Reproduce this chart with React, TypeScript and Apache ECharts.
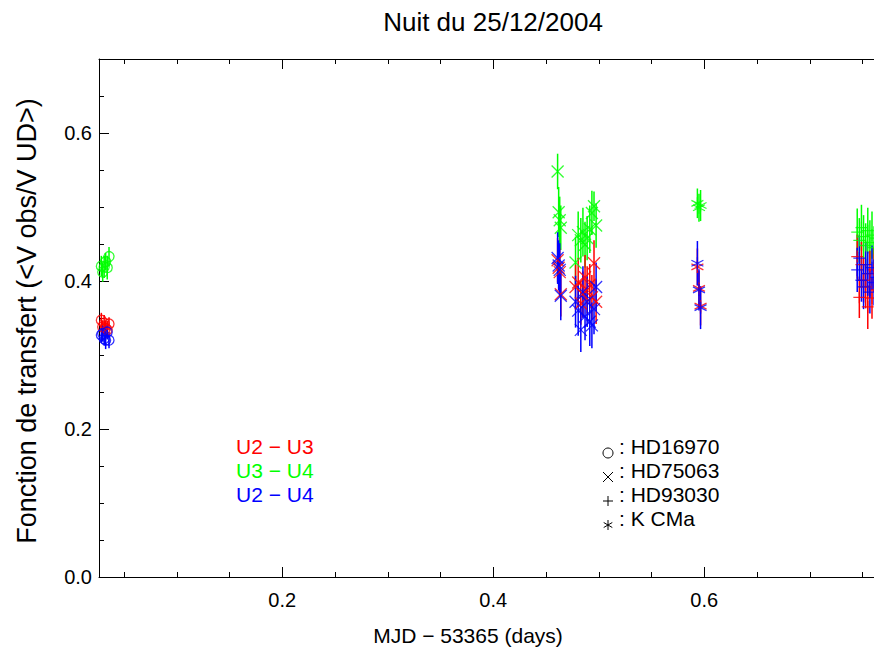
import React, { useEffect, useRef } from "react";
import * as echarts from "echarts";

// Baselines (colour) and stars (symbol)
const baselineNames = ["U2 − U3", "U3 − U4", "U2 − U4"];
const baselineColors = ["#ff0000", "#00ff00", "#0000ff"];
const starNames = ["HD16970", "HD75063", "HD93030", "K CMa"];

// Axis ticks
const xMinorTicks = [0.05, 0.1, 0.15, 0.2, 0.25, 0.3, 0.35, 0.4, 0.45, 0.5, 0.55, 0.6, 0.65, 0.7, 0.75];
const xMajorTicks = [0.2, 0.4, 0.6];
const yMinorTicks = [0, 0.05, 0.1, 0.15, 0.2, 0.25, 0.3, 0.35, 0.4, 0.45, 0.5, 0.55, 0.6, 0.65];
const yMajorTicks = [0.0, 0.2, 0.4, 0.6];

// HD16970 (circles)
const hd16970X = [0.0285, 0.0298, 0.0312, 0.0326, 0.0341, 0.0358];
const hd16970U23 = [0.347, 0.338, 0.343, 0.336, 0.334, 0.342];
const hd16970U34 = [0.420, 0.412, 0.419, 0.426, 0.418, 0.433];
const hd16970U24 = [0.327, 0.329, 0.322, 0.320, 0.331, 0.320];
const hd16970ErrU23 = [0.010, 0.009, 0.011, 0.010, 0.012, 0.009];
const hd16970ErrU34 = [0.014, 0.013, 0.015, 0.012, 0.016, 0.013];
const hd16970ErrU24 = [0.010, 0.011, 0.009, 0.012, 0.010, 0.011];

// HD75063 (crosses)
const hd75063X = [0.4610, 0.4620, 0.4630, 0.4640, 0.4780, 0.4805, 0.4830, 0.4850, 0.4870, 0.4890, 0.4915, 0.4935, 0.4955, 0.4975];
const hd75063U23 = [0.428, 0.418, 0.412, 0.382, 0.392, 0.398, 0.370, 0.382, 0.405, 0.388, 0.395, 0.378, 0.424, 0.372];
const hd75063U34 = [0.548, 0.493, 0.482, 0.472, 0.425, 0.462, 0.455, 0.466, 0.449, 0.458, 0.470, 0.492, 0.501, 0.475];
const hd75063U24 = [0.431, 0.421, 0.415, 0.380, 0.372, 0.360, 0.334, 0.385, 0.352, 0.372, 0.345, 0.340, 0.362, 0.392];
const hd75063ErrU23 = [0.030, 0.028, 0.032, 0.030, 0.030, 0.033, 0.029, 0.031, 0.030, 0.032, 0.028, 0.030, 0.031, 0.030];
const hd75063ErrU34 = [0.024, 0.034, 0.032, 0.030, 0.035, 0.032, 0.030, 0.033, 0.031, 0.030, 0.032, 0.030, 0.020, 0.030];
const hd75063ErrU24 = [0.035, 0.034, 0.036, 0.033, 0.035, 0.034, 0.030, 0.035, 0.032, 0.034, 0.033, 0.031, 0.034, 0.033];

// HD93030 (plus)
const hd93030X = [0.7450, 0.7470, 0.7490, 0.7510, 0.7530, 0.7550, 0.7570, 0.7590, 0.7610, 0.7630];
const hd93030U23 = [0.433, 0.378, 0.422, 0.401, 0.392, 0.365, 0.410, 0.377, 0.415, 0.388];
const hd93030U34 = [0.466, 0.455, 0.472, 0.460, 0.448, 0.468, 0.452, 0.462, 0.445, 0.458];
const hd93030U24 = [0.415, 0.431, 0.401, 0.392, 0.422, 0.410, 0.385, 0.418, 0.398, 0.405];
const hd93030ErrU23 = [0.030, 0.028, 0.031, 0.030, 0.029, 0.030, 0.031, 0.028, 0.030, 0.029];
const hd93030ErrU34 = [0.032, 0.030, 0.031, 0.029, 0.030, 0.031, 0.030, 0.032, 0.029, 0.030];
const hd93030ErrU24 = [0.030, 0.031, 0.029, 0.030, 0.031, 0.030, 0.029, 0.030, 0.031, 0.030];

// K CMa (asterisks)
const kcmaX = [0.5935, 0.5950, 0.5965];
const kcmaU23 = [0.419, 0.390, 0.366];
const kcmaU34 = [0.505, 0.499, 0.502];
const kcmaU24 = [0.424, 0.388, 0.364];
const kcmaErrU23 = [0.025, 0.024, 0.026];
const kcmaErrU34 = [0.020, 0.019, 0.021];
const kcmaErrU24 = [0.030, 0.028, 0.029];

const SYM_CIRCLE = "circle";
const SYM_X = "path://M0,0L10,10M10,0L0,10";
const SYM_PLUS = "path://M5,0L5,10M0,5L10,5";
const SYM_AST = "path://M5,0L5,10M0.67,2.5L9.33,7.5M0.67,7.5L9.33,2.5";

const FONT = "'Liberation Sans', Arial, Helvetica, sans-serif";

type StarSet = {
  name: string;
  symbol: string;
  size: number;
  x: number[];
  vals: number[][];
  errs: number[][];
};

const starSets: StarSet[] = [
  { name: starNames[0], symbol: SYM_CIRCLE, size: 10, x: hd16970X, vals: [hd16970U23, hd16970U34, hd16970U24], errs: [hd16970ErrU23, hd16970ErrU34, hd16970ErrU24] },
  { name: starNames[1], symbol: SYM_X, size: 12, x: hd75063X, vals: [hd75063U23, hd75063U34, hd75063U24], errs: [hd75063ErrU23, hd75063ErrU34, hd75063ErrU24] },
  { name: starNames[2], symbol: SYM_PLUS, size: 12, x: hd93030X, vals: [hd93030U23, hd93030U34, hd93030U24], errs: [hd93030ErrU23, hd93030ErrU34, hd93030ErrU24] },
  { name: starNames[3], symbol: SYM_AST, size: 12, x: kcmaX, vals: [kcmaU23, kcmaU34, kcmaU24], errs: [kcmaErrU23, kcmaErrU34, kcmaErrU24] },
];

const X_MIN = 0.0263;
const X_MAX = 0.78;

export default function App() {
  const ref = useRef<HTMLDivElement>(null);

  useEffect(() => {
    if (!ref.current) return;
    const chart = echarts.init(ref.current, undefined, { renderer: "svg" });

    const series: any[] = [];
    const order = [1, 0, 2]; // green, red, blue drawing order
    starSets.forEach((s) => {
      order.forEach((b) => {
        const color = baselineColors[b];
        const data = s.x.map((xv, i) => [xv, s.vals[b][i], s.errs[b][i]]);
        series.push({
          type: "custom",
          name: `${s.name} ${baselineNames[b]} err`,
          xAxisIndex: 0,
          yAxisIndex: 0,
          silent: true,
          clip: true,
          encode: { x: 0, y: 1 },
          data,
          renderItem: (params: any, api: any) => {
            const xv = api.value(0);
            const yv = api.value(1);
            const e = api.value(2);
            const p1 = api.coord([xv, yv - e]);
            const p2 = api.coord([xv, yv + e]);
            return {
              type: "line",
              shape: { x1: p1[0], y1: p1[1], x2: p2[0], y2: p2[1] },
              style: { stroke: color, lineWidth: 1.5 },
            };
          },
        });
        series.push({
          type: "scatter",
          name: `${s.name} ${baselineNames[b]}`,
          xAxisIndex: 0,
          yAxisIndex: 0,
          silent: true,
          clip: true,
          symbol: s.symbol,
          symbolSize: s.size,
          data: data.map((d) => [d[0], d[1]]),
          itemStyle: { color: "transparent", borderColor: color, borderWidth: 1.3 },
        });
      });
    });

    const axisLine = { show: true, lineStyle: { color: "#000", width: 1 } };
    const tickStyle = { color: "#000", width: 1 };

    const legendGraphics: any[] = [];
    baselineNames.forEach((n, i) => {
      legendGraphics.push({
        type: "text",
        x: 236,
        y: 446 + i * 24,
        style: { text: n, fill: baselineColors[i], font: `21px ${FONT}`, textVerticalAlign: "middle" },
      });
    });
    starNames.forEach((n, i) => {
      legendGraphics.push({
        type: "text",
        x: 619,
        y: 446 + i * 24,
        style: { text: ": " + n, fill: "#000", font: `21px ${FONT}`, textVerticalAlign: "middle" },
      });
    });
    const sx = 608;
    const sy = [453, 477, 501, 525];
    const h = 5;
    const ls = { stroke: "#000", lineWidth: 1 };
    legendGraphics.push({ type: "circle", shape: { cx: sx, cy: sy[0], r: h }, style: { fill: "none", stroke: "#000", lineWidth: 1 } });
    legendGraphics.push({ type: "line", shape: { x1: sx - h, y1: sy[1] - h, x2: sx + h, y2: sy[1] + h }, style: ls });
    legendGraphics.push({ type: "line", shape: { x1: sx - h, y1: sy[1] + h, x2: sx + h, y2: sy[1] - h }, style: ls });
    legendGraphics.push({ type: "line", shape: { x1: sx - h, y1: sy[2], x2: sx + h, y2: sy[2] }, style: ls });
    legendGraphics.push({ type: "line", shape: { x1: sx, y1: sy[2] - h, x2: sx, y2: sy[2] + h }, style: ls });
    legendGraphics.push({ type: "line", shape: { x1: sx, y1: sy[3] - h, x2: sx, y2: sy[3] + h }, style: ls });
    legendGraphics.push({ type: "line", shape: { x1: sx - 4.3, y1: sy[3] - 2.5, x2: sx + 4.3, y2: sy[3] + 2.5 }, style: ls });
    legendGraphics.push({ type: "line", shape: { x1: sx - 4.3, y1: sy[3] + 2.5, x2: sx + 4.3, y2: sy[3] - 2.5 }, style: ls });

    const option: any = {
      animation: false,
      backgroundColor: "#fff",
      textStyle: { fontFamily: FONT },
      title: {
        text: "Nuit du 25/12/2004",
        left: 488,
        top: 4,
        textAlign: "center",
        textStyle: { fontFamily: FONT, fontSize: 26, fontWeight: "normal", color: "#000" },
      },
      grid: {
        left: 99,
        top: 59,
        width: (X_MAX - X_MIN) * 1055,
        height: 518,
        containLabel: false,
        outerBoundsMode: "none",
      },
      xAxis: [
        {
          type: "value", position: "bottom", min: X_MIN, max: X_MAX,
          axisLine, splitLine: { show: false },
          axisTick: { show: true, inside: true, length: 5, lineStyle: tickStyle, customValues: xMinorTicks },
          axisLabel: { show: false },
        },
        {
          type: "value", position: "bottom", min: X_MIN, max: X_MAX,
          axisLine: { show: false }, splitLine: { show: false },
          axisTick: { show: true, inside: true, length: 10, lineStyle: tickStyle, customValues: xMajorTicks },
          axisLabel: {
            show: true, customValues: xMajorTicks, margin: 13, color: "#000", fontSize: 20, fontFamily: FONT,
            formatter: (v: number) => v.toFixed(1),
          },
        },
        {
          type: "value", position: "top", min: X_MIN, max: X_MAX,
          axisLine, splitLine: { show: false },
          axisTick: { show: true, inside: true, length: 5, lineStyle: tickStyle, customValues: xMinorTicks },
          axisLabel: { show: false },
        },
        {
          type: "value", position: "top", min: X_MIN, max: X_MAX,
          axisLine: { show: false }, splitLine: { show: false },
          axisTick: { show: true, inside: true, length: 10, lineStyle: tickStyle, customValues: xMajorTicks },
          axisLabel: { show: false },
        },
      ],
      yAxis: [
        {
          type: "value", position: "left", min: 0, max: 0.7,
          axisLine, splitLine: { show: false },
          axisTick: { show: true, inside: true, length: 5, lineStyle: tickStyle, customValues: yMinorTicks },
          axisLabel: { show: false },
        },
        {
          type: "value", position: "left", min: 0, max: 0.7,
          axisLine: { show: false }, splitLine: { show: false },
          axisTick: { show: true, inside: true, length: 10, lineStyle: tickStyle, customValues: yMajorTicks },
          axisLabel: {
            show: true, customValues: yMajorTicks, margin: 7, color: "#000", fontSize: 20, fontFamily: FONT,
            formatter: (v: number) => v.toFixed(1),
          },
        },
      ],
      graphic: [
        {
          type: "text",
          x: 468,
          y: 635,
          style: { text: "MJD − 53365 (days)", fill: "#000", font: `21px ${FONT}`, textAlign: "center", textVerticalAlign: "middle" },
        },
        {
          type: "text",
          x: 27,
          y: 321,
          rotation: Math.PI / 2,
          style: { text: "Fonction de transfert (<V obs/V UD>)", fill: "#000", font: `27px ${FONT}`, textAlign: "center", textVerticalAlign: "middle" },
        },
        ...legendGraphics,
      ],
      series,
    };

    chart.setOption(option);
    return () => chart.dispose();
  }, []);

  return <div ref={ref} style={{ position: "fixed", left: 0, top: 0, width: 874, height: 652 }} />;
}
